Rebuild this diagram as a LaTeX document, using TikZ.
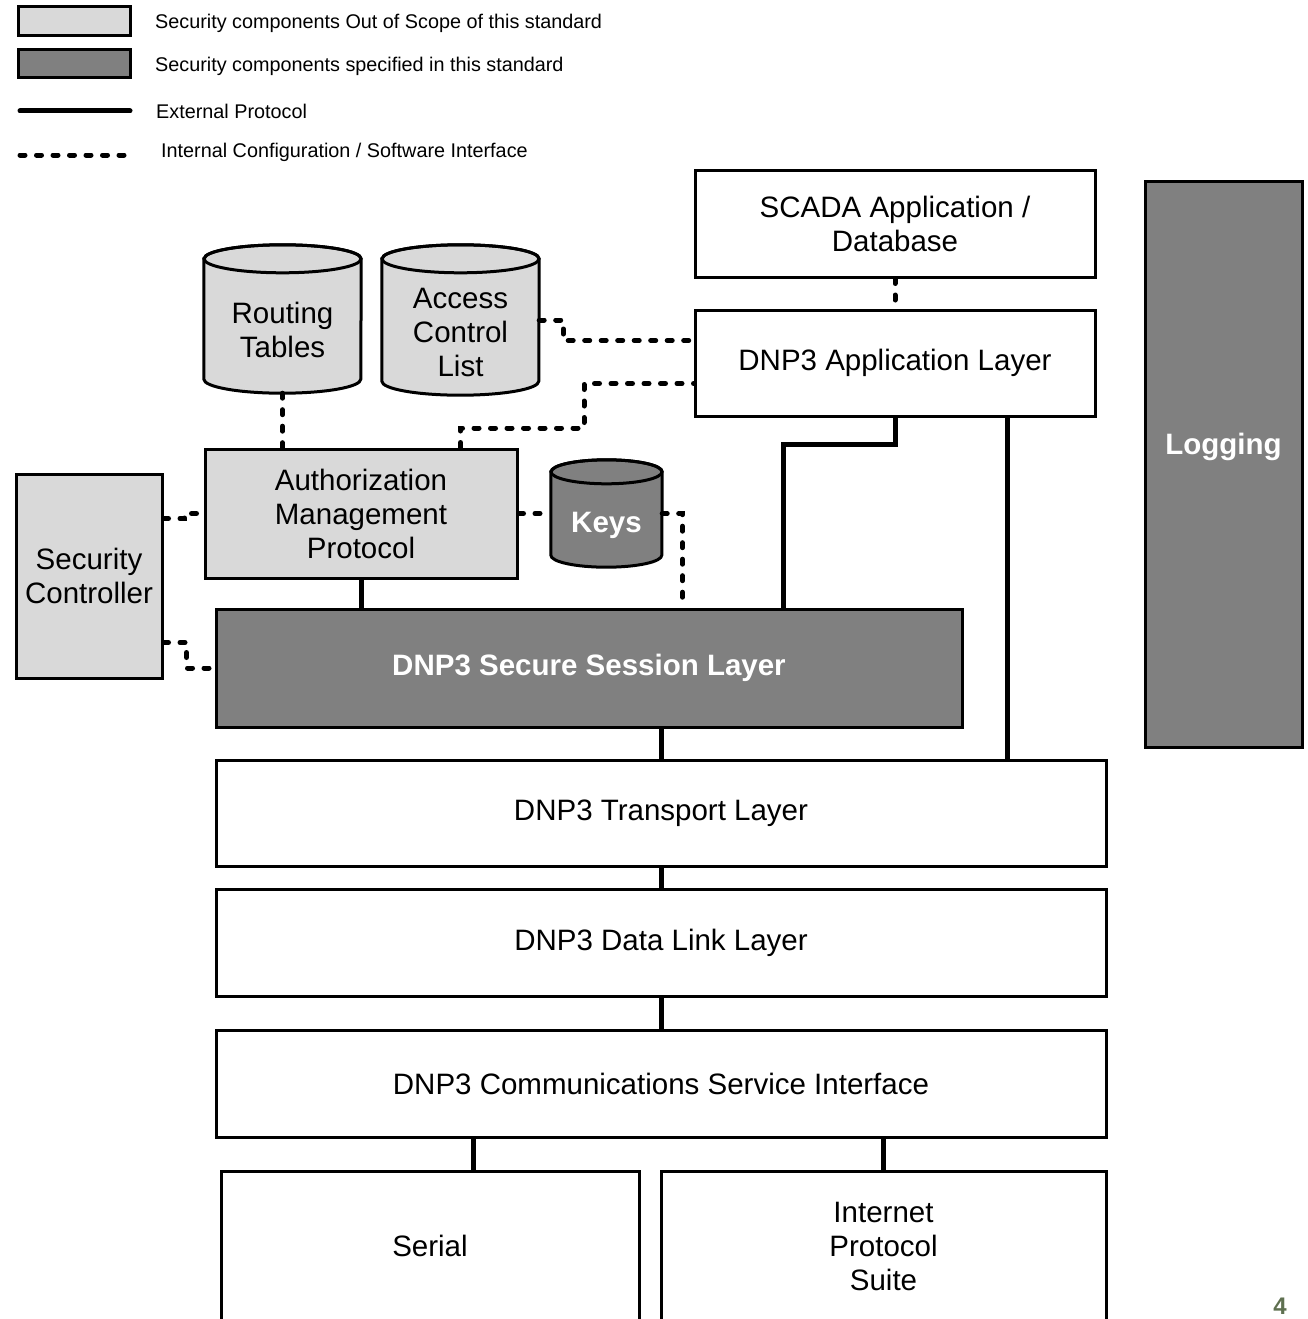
\documentclass[tikz,border=0pt]{standalone}
\usepackage{fontspec}
\setmainfont{Liberation Sans}
\usetikzlibrary{calc}

\definecolor{outscope}{RGB}{217,217,217}
\definecolor{inscope}{RGB}{128,128,128}
\definecolor{pagenum}{RGB}{95,112,80}

\newcommand{\dgmfont}{\fontsize{29.5}{34}\selectfont}
\newcommand{\dgmsmall}{\fontsize{19.8}{22}\selectfont}

% database cylinder drawn around an invisible holder node
% #1 holder name, #2 fill colour, #3 x radius, #4 y radius of the end ellipses
\newcommand{\dbcyl}[4]{%
  \draw[line width=3pt, fill=#2]
    ($(#1.north west)+(0,#4)$) -- ($(#1.south west)+(0,-#4)$)
    arc[start angle=180, end angle=360, x radius=#3pt, y radius=#4pt]
    -- ($(#1.north east)+(0,#4)$)
    arc[start angle=0, end angle=180, x radius=#3pt, y radius=#4pt] -- cycle;
  \draw[line width=3pt] ($(#1.north)+(0,#4)$) ellipse[x radius=#3pt, y radius=#4pt];
}

\begin{document}
\begin{tikzpicture}[x=1pt, y=-1pt,
  box/.style={draw=black, line width=3pt, fill=white, inner sep=0pt, align=center, font=\dgmfont},
  outbox/.style={box, fill=outscope},
  inbox/.style={box, fill=inscope, text=white, font=\dgmfont\bfseries},
  holder/.style={inner sep=0pt},
  txt/.style={inner sep=0pt, align=center, font=\dgmfont},
  legtxt/.style={inner sep=0pt, anchor=west, font=\dgmsmall},
  ext/.style={line width=5pt},
  cfg/.style={line width=5pt, dash pattern=on 5pt off 11.5pt, line cap=round},
]
\useasboundingbox (0,0) rectangle (1308,1319);

% ---------- legend ----------
\node[outbox, minimum width=112, minimum height=29] (lgout) at (74,21) {};
\node[box, fill=inscope, minimum width=112, minimum height=28] (lgin) at (74,64) {};
\coordinate (lgextA) at (20,111);
\coordinate (lgextB) at (130,111);
\draw[ext, line cap=round] (lgextA) -- (lgextB);
\coordinate (lgcfgA) at (20,155);
\coordinate (lgcfgB) at (128,155);
\draw[cfg] (lgcfgA) -- (lgcfgB);
\node[legtxt] (lgouttxt) at (155,23) {Security components Out of Scope of this standard};
\node[legtxt] (lgintxt) at (155,66) {Security components specified in this standard};
\node[legtxt] (lgexttxt) at (156,111) {External Protocol};
\node[legtxt] (lgcfgtxt) at (161,152) {Internal Configuration / Software Interface};

% ---------- application side ----------
\node[box, minimum width=400, minimum height=107] (scada) at (895,223.5) {SCADA Application /\\Database};
\node[box, minimum width=400, minimum height=106] (app) at (895,363) {DNP3 Application Layer};
\node[inbox, minimum width=157, minimum height=566] (logging) at (1223.5,464) {};
\node[txt, text=white, font=\dgmfont\bfseries] (logtxt) at (1223.5,447) {Logging};

% ---------- databases ----------
\node[holder, minimum width=157, minimum height=148] (rt) at (282.5,319) {};
\dbcyl{rt}{outscope}{78.5}{14}
\node[txt] (rttxt) at (282.5,330) {Routing\\Tables};

\node[holder, minimum width=157, minimum height=150] (acl) at (460.5,320) {};
\dbcyl{acl}{outscope}{78.5}{14}
\node[txt] (acltxt) at (460.5,332) {Access\\Control\\List};

\node[holder, minimum width=111, minimum height=107] (keys) at (606.5,513.5) {};
\dbcyl{keys}{inscope}{55.5}{12}
\node[txt, text=white, font=\dgmfont\bfseries] (keystxt) at (606.5,525) {Keys};

% ---------- security components ----------
\node[outbox, minimum width=312, minimum height=129] (amp) at (361,513.5) {Authorization\\Management\\Protocol};
\node[outbox, minimum width=146, minimum height=204] (sc) at (89,576) {Security\\Controller};
\node[inbox, minimum width=746, minimum height=118] (sss) at (589,668) {DNP3 Secure Session Layer};

% ---------- protocol stack ----------
\node[box, minimum width=890, minimum height=106] (transport) at (661,813) {DNP3 Transport Layer};
\node[box, minimum width=890, minimum height=107] (datalink) at (661,942.5) {DNP3 Data Link Layer};
\node[box, minimum width=890, minimum height=107] (csi) at (661,1083.5) {DNP3 Communications Service Interface};
\node[box, minimum width=418, minimum height=150] (serial) at (430,1246) {Serial};
\node[box, minimum width=445, minimum height=150] (ips) at (883.5,1246) {Internet\\Protocol\\Suite};

% ---------- external protocol links ----------
\draw[ext] (app.south) -- ++(0,27) -| ($(sss.north west)+(569,0)$);
\coordinate (appright) at ($(app.south east)+(-89,0)$);
\draw[ext] (appright) -- (appright |- transport.north);
\draw[ext] (amp.south) -- (amp.south |- sss.north);
\draw[ext] (transport.north |- sss.south) -- (transport.north);
\draw[ext] (transport.south) -- (datalink.north);
\draw[ext] (datalink.south) -- (csi.north);
\coordinate (csiserial) at ($(csi.south west)+(259,0)$);
\draw[ext] (csiserial) -- (csiserial |- serial.north);
\draw[ext] (ips.north |- csi.south) -- (ips.north);

% ---------- internal configuration links ----------
\draw[cfg] (scada.south) -- (app.north);
\draw[cfg] (rt.south) -- (rt.south |- amp.north);
\draw[cfg] (acl.east) -- ++(24,0) |- ($(app.north west)+(0,32)$);
\draw[cfg] ($(amp.north west)+(257,0)$) |- (584,428) |- ($(app.north west)+(0,75)$);
\draw[cfg] ($(sc.north east)+(0,46)$) -| ($(amp.west)+(-19,0)$) -- (amp.west);
\draw[cfg] ($(sc.north east)+(0,170)$) -| ($(sss.west)+(-28,0)$) -- (sss.west);
\draw[cfg] (amp.east) -- (keys.west);
\draw[cfg] (keys.east) -| ($(sss.north west)+(468,0)$);

% ---------- page number ----------
\node[inner sep=0pt, text=pagenum, font=\fontsize{24}{26}\selectfont\bfseries] (pageno) at (1280,1306) {4};
\end{tikzpicture}
\end{document}
